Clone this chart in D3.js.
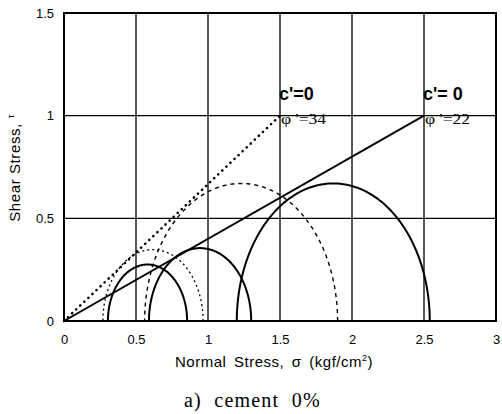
<!DOCTYPE html>
<html><head><meta charset="utf-8">
<script src="https://cdn.jsdelivr.net/npm/d3@7"></script>
<style>body{margin:0;background:#fff}svg{display:block}</style>
</head><body>
<svg id="c" width="502" height="414"></svg>
<script>
// ---- data ----
const xTicks = [0, 0.5, 1, 1.5, 2, 2.5, 3];
const yTicks = [0, 0.5, 1, 1.5];
const xTickLabels = ["0", "0.5", "1", "1.5", "2", "2.5", "3"];
const yTickLabels = ["0", "0.5", "1", "1.5"];
const circleNames = ["fineA", "solidA", "dashB", "solidB", "solidC"];
const circleCenters = [0.618, 0.58, 1.23, 0.945, 1.87];
const circleRadii = [0.348, 0.275, 0.67, 0.355, 0.67];
const envelopeNames = ["phi34", "phi22"];
const envelopeEndSigma = [1.5, 2.5];
const envelopeEndTau = [1.0, 1.0];
const envelopeC = ["c'=0", "c'= 0"];
const envelopePhi = ["\u03c6 '=34", "\u03c6 '=22"];

// ---- styles ----
const circleStyle = {
  fineA: {w: 1.3, dash: "2,3"},
  solidA: {w: 2, dash: null},
  dashB: {w: 1.4, dash: "4,4"},
  solidB: {w: 2, dash: null},
  solidC: {w: 2, dash: null}
};
const envStyle = {
  phi34: {w: 2.6, dash: "0.1,5.5", cap: "round"},
  phi22: {w: 2, dash: null, cap: "butt"}
};

const svg = d3.select("#c");
const x = d3.scaleLinear().domain([0, 3]).range([64, 496]);
const y = d3.scaleLinear().domain([0, 1.5]).range([321, 13]);

// grid
const g = svg.append("g");
g.selectAll(".gx").data(xTicks.slice(1, -1)).join("line")
  .attr("x1", d => x(d)).attr("x2", d => x(d)).attr("y1", y(0)).attr("y2", y(1.5))
  .attr("stroke", "#000").attr("stroke-width", 1.3);
g.selectAll(".gy").data(yTicks.slice(1, -1)).join("line")
  .attr("y1", d => y(d)).attr("y2", d => y(d)).attr("x1", x(0)).attr("x2", x(3))
  .attr("stroke", "#000").attr("stroke-width", 1.3);

// axes (labels only)
const xAxis = d3.axisBottom(x).tickValues(xTicks).tickSize(0).tickPadding(14)
  .tickFormat((d, i) => xTickLabels[i]);
const yAxis = d3.axisLeft(y).tickValues(yTicks).tickSize(0).tickPadding(10)
  .tickFormat((d, i) => yTickLabels[i]);
const ax = svg.append("g").attr("transform", `translate(0,${y(0)})`).call(xAxis);
const ay = svg.append("g").attr("transform", `translate(${x(0)},0)`).call(yAxis);
[ax, ay].forEach(a => {
  a.select(".domain").remove();
  a.selectAll("text").attr("font-family", "Liberation Sans, Arial, sans-serif")
    .attr("font-size", 13).attr("fill", "#000");
});

// circles (upper halves)
const line = d3.line().x(p => x(p[0])).y(p => y(p[1]));
const angles = d3.range(0, 181, 1).map(a => a * Math.PI / 180);
circleNames.forEach((n, i) => {
  const c = circleCenters[i], r = circleRadii[i];
  const pts = angles.map(t => [c + r * Math.cos(t), r * Math.sin(t)]);
  const st = circleStyle[n];
  svg.append("path").attr("d", line(pts)).attr("fill", "none")
    .attr("stroke", "#000").attr("stroke-width", st.w)
    .attr("stroke-dasharray", st.dash);
});

// envelopes
envelopeNames.forEach((n, i) => {
  const st = envStyle[n];
  svg.append("path").attr("d", line([[0, 0], [envelopeEndSigma[i], envelopeEndTau[i]]]))
    .attr("fill", "none").attr("stroke", "#000").attr("stroke-width", st.w)
    .attr("stroke-dasharray", st.dash).attr("stroke-linecap", st.cap);
  svg.append("text").attr("x", x(envelopeEndSigma[i]) - 1).attr("y", y(envelopeEndTau[i]) - 16)
    .attr("font-family", "Liberation Sans, Arial, sans-serif").attr("font-weight", "bold")
    .attr("font-size", 18).text(envelopeC[i]);
  svg.append("text").attr("x", x(envelopeEndSigma[i]) + 1).attr("y", y(envelopeEndTau[i]) + 8)
    .attr("font-family", "Liberation Serif, serif").attr("font-size", 15)
    .attr("textLength", 45).attr("lengthAdjust", "spacingAndGlyphs")
    .text(envelopePhi[i]);
});

// frame
svg.append("rect").attr("x", x(0)).attr("y", y(1.5)).attr("width", x(3) - x(0))
  .attr("height", y(0) - y(1.5)).attr("fill", "none").attr("stroke", "#000").attr("stroke-width", 2);

// axis titles
const xt = svg.append("text").attr("x", 274).attr("y", 367).attr("text-anchor", "middle")
  .attr("font-family", "Liberation Sans, Arial, sans-serif").attr("font-size", 15)
  .attr("letter-spacing", 0.5).attr("word-spacing", 3);
xt.append("tspan").text("Normal Stress, \u03c3 (kgf/cm");
xt.append("tspan").attr("font-size", 9).attr("dy", -6).text("2");
xt.append("tspan").attr("dy", 6).text(")");

const yt = svg.append("text").attr("transform", "translate(20,168) rotate(-90)")
  .attr("text-anchor", "middle")
  .attr("font-family", "Liberation Sans, Arial, sans-serif").attr("font-size", 15)
  .attr("letter-spacing", 0.6);
yt.append("tspan").text("Shear Stress, ");
yt.append("tspan").attr("font-size", 9).attr("dy", -6).text("\u03c4");

svg.append("text").attr("x", 184).attr("y", 407)
  .attr("font-family", "Liberation Serif, serif").attr("font-size", 20)
  .attr("letter-spacing", 1.2).attr("xml:space", "preserve")
  .text("a)  cement  0%");
</script>
</body></html>
